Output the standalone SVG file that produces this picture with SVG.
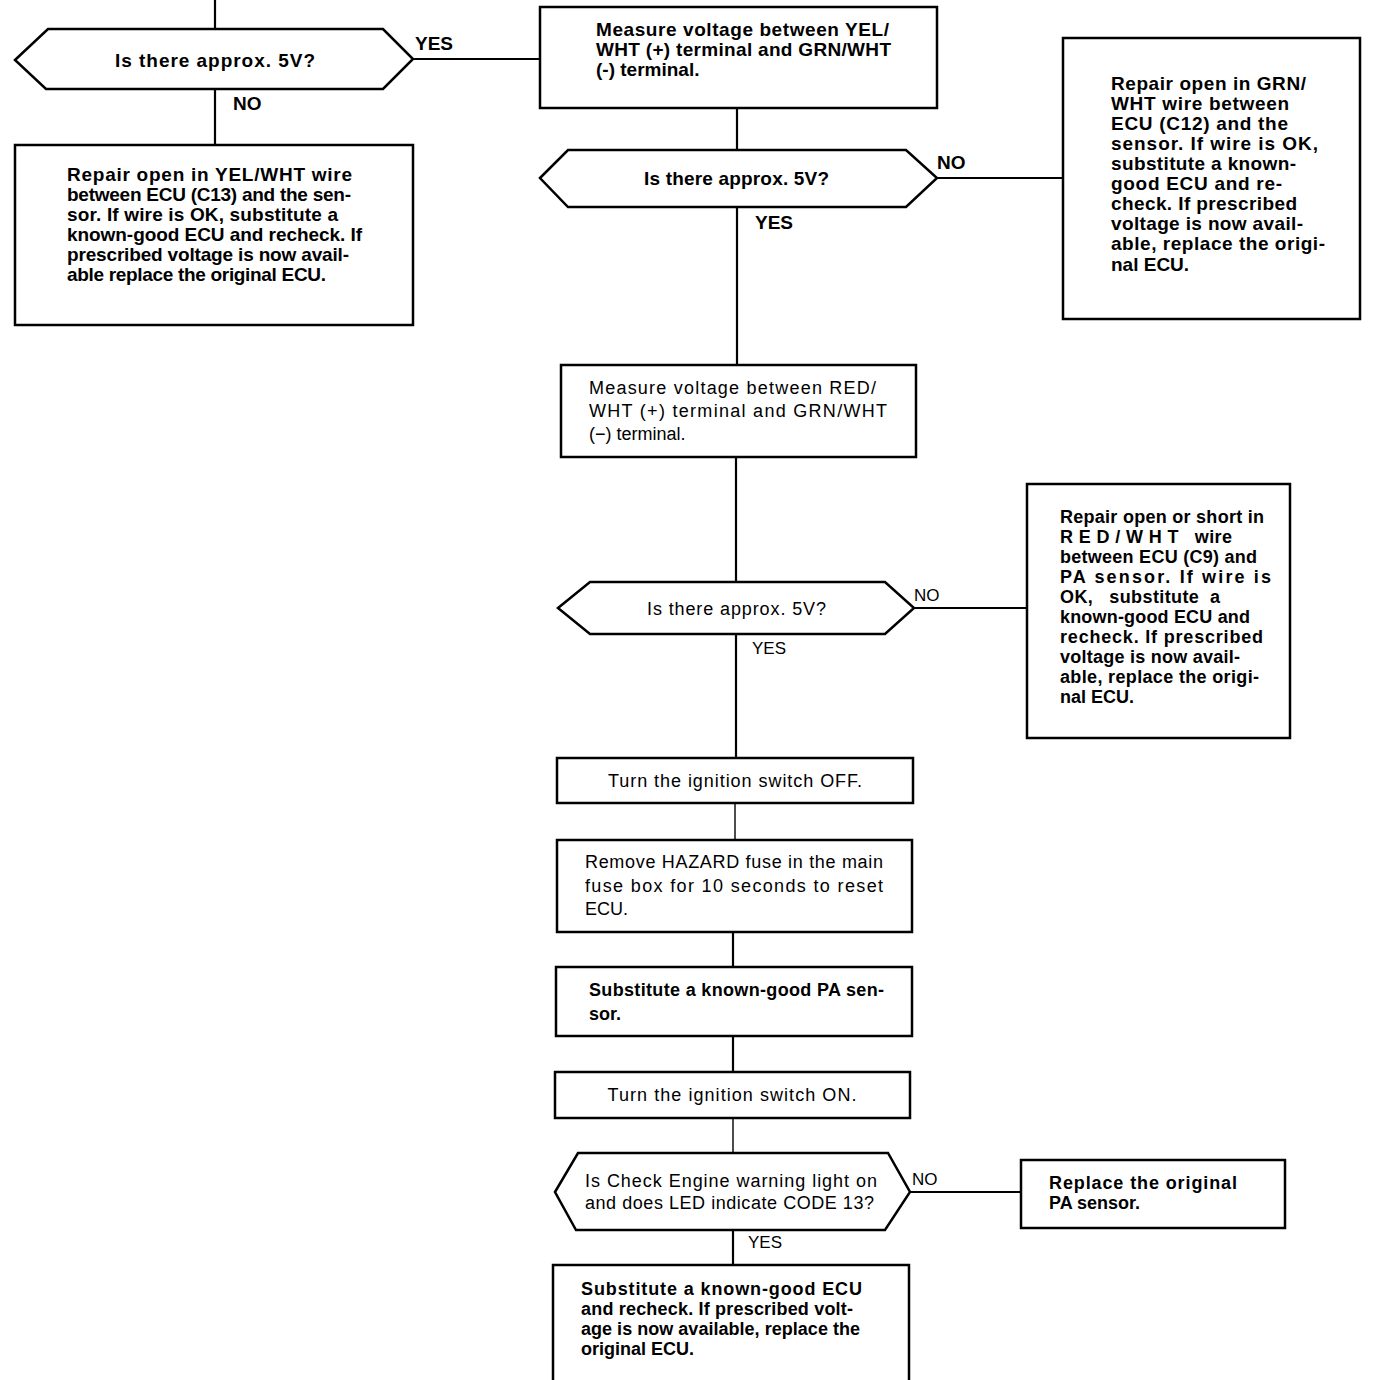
<svg xmlns="http://www.w3.org/2000/svg" width="1392" height="1380" viewBox="0 0 1392 1380">
<style>
.box{fill:#fff;stroke:#000;stroke-width:2.5}
.ln{fill:none;stroke:#000;stroke-width:2.2}
.thin{fill:none;stroke:#000;stroke-width:1.4}
text{font-family:"Liberation Sans",Arial,Helvetica,sans-serif;fill:#000}
.b{font-weight:bold;font-size:19px}
.bs{font-weight:bold;font-size:18px}
.n{font-size:18px}
.lb{font-weight:bold;font-size:19px}
.ln2{font-size:17px}
</style>
<rect width="1392" height="1380" fill="#fff"/>
<g id="connectors">
<line class="ln" x1="215" y1="0" x2="215" y2="29"/>
<line class="ln" x1="413" y1="59" x2="540" y2="59"/>
<line class="ln" x1="215" y1="89" x2="215" y2="145"/>
<line class="ln" x1="737" y1="108" x2="737" y2="150"/>
<line class="ln" x1="937" y1="178" x2="1063" y2="178"/>
<line class="ln" x1="737" y1="207" x2="737" y2="365"/>
<line class="ln" x1="736" y1="457" x2="736" y2="582"/>
<line class="ln" x1="914" y1="608" x2="1027" y2="608"/>
<line class="ln" x1="736" y1="634" x2="736" y2="758"/>
<line class="thin" x1="735" y1="803" x2="735" y2="840"/>
<line class="ln" x1="733" y1="932" x2="733" y2="967"/>
<line class="ln" x1="733" y1="1036" x2="733" y2="1072"/>
<line class="thin" x1="733" y1="1118" x2="733" y2="1153"/>
<line class="ln" x1="910" y1="1192" x2="1021" y2="1192"/>
<line class="ln" x1="733" y1="1230" x2="733" y2="1265"/>
</g>
<g id="labels">
<text class="lb" x="415" y="50">YES</text>
<text class="lb" x="233" y="110">NO</text>
<text class="lb" x="937" y="169">NO</text>
<text class="lb" x="755" y="229">YES</text>
<text class="ln2" x="914" y="601">NO</text>
<text class="ln2" x="752" y="654">YES</text>
<text class="ln2" x="912" y="1185">NO</text>
<text class="ln2" x="748" y="1248">YES</text>
</g>
<g id="d1">
<polygon class="box" points="15,60 48,29 383,29 413,59 383,89 46,89"/>
<text class="b" x="115" y="67" textLength="200">Is there approx. 5V?</text>
</g>
<g id="n1">
<rect class="box" x="15" y="145" width="398" height="180"/>
<text class="b" x="67" y="181" textLength="285">Repair open in YEL/WHT wire</text>
<text class="b" x="67" y="201" textLength="284">between ECU (C13) and the sen-</text>
<text class="b" x="67" y="221" textLength="271">sor.  If wire is OK, substitute a</text>
<text class="b" x="67" y="241" textLength="295">known-good ECU and recheck.  If</text>
<text class="b" x="67" y="261" textLength="282">prescribed voltage is now avail-</text>
<text class="b" x="67" y="281" textLength="259">able replace the original ECU.</text>
</g>
<g id="n2">
<rect class="box" x="540" y="7" width="397" height="101"/>
<text class="b" x="596" y="36" textLength="293">Measure voltage between YEL/</text>
<text class="b" x="596" y="56" textLength="295">WHT (+) terminal and GRN/WHT</text>
<text class="b" x="596" y="76">(-) terminal.</text>
</g>
<g id="d2">
<polygon class="box" points="540,178 568,150 906,150 937,178 906,207 568,207"/>
<text class="b" x="644" y="185" textLength="185">Is there approx.  5V?</text>
</g>
<g id="n3">
<rect class="box" x="1063" y="38" width="297" height="281"/>
<text class="b" x="1111" y="90" textLength="195">Repair open in GRN/</text>
<text class="b" x="1111" y="110" textLength="178">WHT wire between</text>
<text class="b" x="1111" y="130" textLength="177">ECU (C12) and the</text>
<text class="b" x="1111" y="150" textLength="207">sensor. If wire is OK,</text>
<text class="b" x="1111" y="170" textLength="185">substitute a known-</text>
<text class="b" x="1111" y="190" textLength="171">good ECU and re-</text>
<text class="b" x="1111" y="210" textLength="186">check. If prescribed</text>
<text class="b" x="1111" y="230" textLength="192">voltage is now avail-</text>
<text class="b" x="1111" y="250" textLength="214">able, replace the origi-</text>
<text class="b" x="1111" y="271">nal ECU.</text>
</g>
<g id="n4">
<rect class="box" x="561" y="365" width="355" height="92"/>
<text class="n" x="589" y="394" textLength="287">Measure voltage between RED/</text>
<text class="n" x="589" y="417" textLength="298">WHT (+) terminal and GRN/WHT</text>
<text class="n" x="589" y="440">(−) terminal.</text>
</g>
<g id="d3">
<polygon class="box" points="558,608 590,582 885,582 914,608 885,634 590,634"/>
<text class="n" x="647" y="615" textLength="179">Is there approx. 5V?</text>
</g>
<g id="n5">
<rect class="box" x="1027" y="484" width="263" height="254"/>
<text class="bs" x="1060" y="523" textLength="204">Repair open or short in</text>
<text class="bs" x="1060" y="543" textLength="172" xml:space="preserve">R E D / W H T   wire</text>
<text class="bs" x="1060" y="563" textLength="197">between ECU (C9) and</text>
<text class="bs" x="1060" y="583" textLength="211">PA sensor.  If wire is</text>
<text class="bs" x="1060" y="603" textLength="160" xml:space="preserve">OK,   substitute  a</text>
<text class="bs" x="1060" y="623" textLength="190">known-good ECU and</text>
<text class="bs" x="1060" y="643" textLength="203">recheck.  If prescribed</text>
<text class="bs" x="1060" y="663" textLength="180">voltage is now avail-</text>
<text class="bs" x="1060" y="683" textLength="199">able, replace the origi-</text>
<text class="bs" x="1060" y="703">nal ECU.</text>
</g>
<g id="n6">
<rect class="box" x="557" y="758" width="356" height="45"/>
<text class="n" x="735" y="787" text-anchor="middle" textLength="254">Turn the ignition switch OFF.</text>
</g>
<g id="n7">
<rect class="box" x="557" y="840" width="355" height="92"/>
<text class="n" x="585" y="868" textLength="298">Remove HAZARD fuse in the main</text>
<text class="n" x="585" y="892" textLength="298">fuse box for 10 seconds to reset</text>
<text class="n" x="585" y="915">ECU.</text>
</g>
<g id="n8">
<rect class="box" x="556" y="967" width="356" height="69"/>
<text class="bs" x="589" y="996" textLength="295">Substitute a known-good PA sen-</text>
<text class="bs" x="589" y="1020">sor.</text>
</g>
<g id="n9">
<rect class="box" x="555" y="1072" width="355" height="46"/>
<text class="n" x="732" y="1101" text-anchor="middle" textLength="249">Turn the ignition switch ON.</text>
</g>
<g id="d4">
<polygon class="box" points="555,1192 578,1153 888,1153 910,1192 885,1230 576,1230"/>
<text class="n" x="585" y="1187" textLength="292">Is Check Engine warning light on</text>
<text class="n" x="585" y="1209" textLength="289">and does LED indicate CODE 13?</text>
</g>
<g id="n10">
<rect class="box" x="1021" y="1160" width="264" height="68"/>
<text class="bs" x="1049" y="1189" textLength="188">Replace the original</text>
<text class="bs" x="1049" y="1209">PA sensor.</text>
</g>
<g id="n11">
<path class="box" d="M553,1385 V1265 H909 V1385"/>
<text class="bs" x="581" y="1295" textLength="281">Substitute a known-good ECU</text>
<text class="bs" x="581" y="1315" textLength="272">and recheck.  If prescribed volt-</text>
<text class="bs" x="581" y="1335" textLength="279">age is now available, replace the</text>
<text class="bs" x="581" y="1355">original ECU.</text>
</g>
</svg>
